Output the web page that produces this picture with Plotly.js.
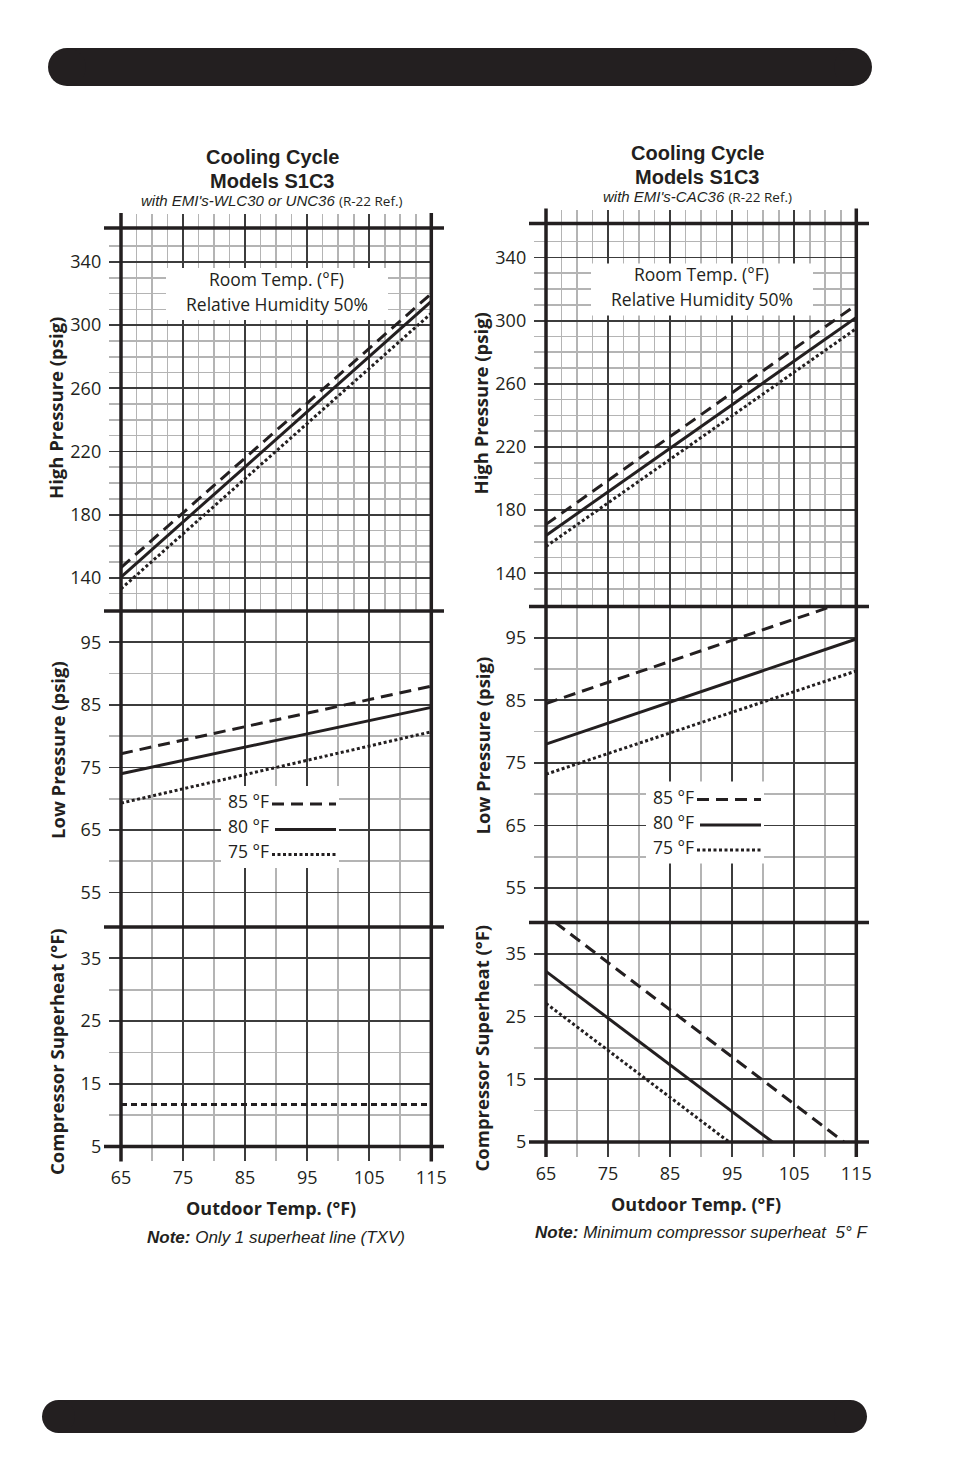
<!DOCTYPE html>
<html><head><meta charset="utf-8">
<script src="https://cdn.plot.ly/plotly-3.0.1.min.js"></script>
<style>html,body{margin:0;padding:0;background:#fff}#chart{width:954px;height:1474px}</style>
</head><body><div id="chart"></div>
<script>
// ---------- DATA ----------
const tempEnds = [65, 115];                 // outdoor temp (°F) end points
// Left chart: EMI's-WLC30 or UNC36
const leftHigh85 = [146.5, 320];
const leftHigh80 = [140.5, 315];
const leftHigh75 = [133, 307.5];
const leftLow85 = [77.2, 88];
const leftLow80 = [74, 84.6];
const leftLow75 = [69.3, 80.7];
const leftShTemp = [65, 115];
const leftSh = [11.7, 11.7];
// Right chart: EMI's-CAC36
const rightHigh85 = [171, 310];
const rightHigh80 = [164, 302];
const rightHigh75 = [157, 295];
const rightLow85Temp = [65, 111];
const rightLow85 = [84.5, 100];
const rightLow80 = [78, 94.8];
const rightLow75 = [73.2, 89.7];
const rightSh85Temp = [66.5, 113];
const rightSh85 = [40, 5];
const rightSh80Temp = [65, 101.5];
const rightSh80 = [32.2, 5];
const rightSh75Temp = [65, 94.5];
const rightSh75 = [27.1, 5];
// Tick values
const xTickVals = [65, 75, 85, 95, 105, 115];
const highTicks = [140, 180, 220, 260, 300, 340];
const lowTicks = [55, 65, 75, 85, 95];
const shTicks = [5, 15, 25, 35];
const legendLabels = ['85 °F', '80 °F', '75 °F'];

// ---------- STYLE / GEOMETRY ----------
const W = 954, H = 1474;
const INK = '#231f20';
const DARK = '#3c3c3c', LIGHT = '#b4b4b4';
const TICKFONT = {family: 'Open Sans, sans-serif', size: 18, color: INK};
const px = x => x / W;
const py = y => 1 - y / H;
const DASH = '12px,7px', DOT = '3px,2.5px';

const layout = {
  width: W, height: H, margin: {l: 0, r: 0, t: 0, b: 0},
  paper_bgcolor: '#fff', plot_bgcolor: 'rgba(0,0,0,0)',
  showlegend: false, shapes: [], annotations: []
};
const traces = [];

function range(a, b, step) { const r = []; for (let v = a; v <= b + 1e-9; v += step) r.push(+v.toFixed(2)); return r; }
const majX = [75, 85, 95, 105];
const minXHigh = range(67.5, 112.5, 2.5).filter(v => !majX.includes(v));
const minXLow = [70, 80, 90, 100, 110];
const minYHigh = range(130, 350, 10).filter(v => !highTicks.includes(v));
const minYLow = [60, 70, 80, 90];
const minYSh = [10, 20, 30];

function line(shapes, x0, y0, x1, y1, w, color, dash) {
  shapes.push({type: 'line', xref: 'paper', yref: 'paper', x0: px(x0), x1: px(x1), y0: py(y0), y1: py(y1),
    line: {color: color || INK, width: w, dash: dash || 'solid'}, layer: 'above'});
}
function rect(shapes, x0, y0, x1, y1, fill) {
  shapes.push({type: 'rect', xref: 'paper', yref: 'paper', x0: px(x0), x1: px(x1), y0: py(y1), y1: py(y0),
    fillcolor: fill, line: {width: 0}, layer: 'above'});
}
function ann(text, x, y, size, opts) {
  layout.annotations.push(Object.assign({text: text, x: px(x), y: py(y), xref: 'paper', yref: 'paper',
    showarrow: false, xanchor: 'center', yanchor: 'middle',
    font: {family: 'Open Sans, sans-serif', size: size, color: INK}}, opts || {}));
}

function buildColumn(idx, dx, dy, d) {
  const x65 = 121 + dx, x115 = 431.3 + dx;
  const s = (x115 - x65) / 50;
  const xr = [63.1, 115.05];
  const xdom = [px(x65 + (xr[0] - 65) * s), px(x65 + (xr[1] - 65) * s)];
  const n = idx * 3;
  // panel geometry (pixels)
  const hiTop = 214 + dy, hiBot = 611 + dy;
  const hiScale = 383 / 242.5;
  const hiRange = [119, 119 + (hiBot - hiTop) / hiScale];
  const loTop = 611 + dy, loBot = 927 + dy;
  const shTop = 927 + dy, shBot = 1161 + dy;
  const shScale = 219.5 / 35;
  const shRange = [5 - (shBot - (1146.5 + dy)) / shScale, 40];

  const grid = {showgrid: true, gridcolor: DARK, gridwidth: 1.8, zeroline: false, showline: false, ticks: ''};
  const axNames = [n + 1, n + 2, n + 3].map(k => k === 1 ? '' : String(k));
  const doms = [[py(hiBot), py(hiTop)], [py(loBot), py(loTop)], [py(shBot), py(shTop)]];
  const yRanges = [hiRange, [49.5, 100], shRange];
  const yTicks = [highTicks, lowTicks, shTicks];
  const yMinor = [minYHigh, minYLow, minYSh];
  const xMinor = [minXHigh, minXLow, minXLow];
  for (let p = 0; p < 3; p++) {
    const k = axNames[p];
    layout['xaxis' + k] = Object.assign({}, grid, {
      domain: xdom, range: xr, anchor: 'y' + k,
      tickmode: 'array', tickvals: p === 2 ? xTickVals : majX,
      showticklabels: p === 2, tickfont: TICKFONT, ticklabelstandoff: 4,
      minor: {tickmode: 'array', tickvals: xMinor[p], showgrid: true, gridcolor: LIGHT, gridwidth: 1.6, ticks: ''}
    });
    layout['yaxis' + k] = Object.assign({}, grid, {
      domain: doms[p], range: yRanges[p], anchor: 'x' + k,
      tickmode: 'array', tickvals: yTicks[p], showticklabels: true, tickfont: TICKFONT, ticklabelstandoff: 7,
      minor: {tickmode: 'array', tickvals: yMinor[p], showgrid: true, gridcolor: LIGHT, gridwidth: 1.6, ticks: ''}
    });
  }
  const xa = axNames.map(k => 'x' + k), ya = axNames.map(k => 'y' + k);
  function tr(p, xs, ys, dash, w) {
    traces.push({type: 'scatter', mode: 'lines', x: xs, y: ys, xaxis: xa[p], yaxis: ya[p],
      line: {color: INK, width: w || 3, dash: dash}, hoverinfo: 'skip'});
  }
  d.forEach(t => tr(t[0], t[1], t[2], t[3], t[4]));

  const sh = layout.shapes;
  // white boxes (Room temp + legend)
  rect(sh, 166 + dx, 268 + dy, 388 + dx, 320 + dy, '#fff');
  rect(sh, 221 + dx, 786 + dy, 339 + dx, 868 + dy, '#fff');
  // thick frame
  [228, 611, 927, 1146.5].forEach(y => line(sh, 104 + dx, y + dy, 444 + dx, y + dy, 3.5));
  [x65, x115].forEach(x => line(sh, x, 213 + dy, x, 1161.5 + dy, 3.5));
  // legend samples
  const lx0 = 272 + dx, lx1 = 336 + dx;
  line(sh, lx0, 804 + dy, lx1, 804 + dy, 3, INK, DASH);
  line(sh, lx0 + 3, 829.5 + dy, lx1, 829.5 + dy, 3.2, INK, 'solid');
  line(sh, lx0, 854.5 + dy, lx1, 854.5 + dy, 3, INK, DOT);
  legendLabels.forEach((t, i) => ann(t, 226 + dx, 801 + 25 * i + dy, 17.5, {xanchor: 'left'}));
  // room temp box text
  ann('Room Temp. (°F)', 276 + dx, 279 + dy, 17.5);
  ann('Relative Humidity 50%', 277 + dx, 304 + dy, 17.5);
  // axis titles
  const bold = {family: 'Open Sans, sans-serif', size: 18.5, color: INK};
  ann('<b>High Pressure (psig)</b>', 55 + dx, 408 + dy, 18.5, {textangle: -90, font: bold});
  ann('<b>Low Pressure (psig)</b>', 57 + dx, 750 + dy, 18.5, {textangle: -90, font: bold});
  ann('<b>Compressor Superheat (°F)</b>', 56 + dx, 1052 + dy, 18.5, {textangle: -90, font: bold});
  ann('<b>Outdoor Temp. (°F)</b>', 271 + dx, 1208 + dy, 18, {font: Object.assign({}, bold, {size: 18})});
}

buildColumn(0, 0, 0, [
  [0, tempEnds, leftHigh85, DASH], [0, tempEnds, leftHigh80, 'solid'], [0, tempEnds, leftHigh75, DOT],
  [1, tempEnds, leftLow85, DASH], [1, tempEnds, leftLow80, 'solid'], [1, tempEnds, leftLow75, DOT],
  [2, leftShTemp, leftSh, '6px,4px', 3]
]);
buildColumn(1, 425, -4.5, [
  [0, tempEnds, rightHigh85, DASH], [0, tempEnds, rightHigh80, 'solid'], [0, tempEnds, rightHigh75, DOT],
  [1, rightLow85Temp, rightLow85, DASH], [1, tempEnds, rightLow80, 'solid'], [1, tempEnds, rightLow75, DOT],
  [2, rightSh85Temp, rightSh85, DASH], [2, rightSh80Temp, rightSh80, 'solid'], [2, rightSh75Temp, rightSh75, DOT]
]);

// Titles
const TF = {family: 'Liberation Sans, Arial, sans-serif', size: 20, color: INK};
const SF = {family: 'Liberation Sans, Arial, sans-serif', size: 15, color: INK};
const REF = '<span style="font-family:Open Sans;font-style:normal;font-size:13.5px">(R-22 Ref.)</span>';
ann('<b>Cooling Cycle</b>', 272, 157, 20, {font: TF});
ann('<b>Models S1C3</b>', 272, 181, 20, {font: TF});
ann("<i>with EMI's-WLC30 or UNC36 </i>" + REF, 272, 201, 15, {font: SF});
ann('<b>Cooling Cycle</b>', 697, 153, 20, {font: TF});
ann('<b>Models S1C3</b>', 697, 177, 20, {font: TF});
ann("<i>with EMI's-CAC36 </i>" + REF, 697, 197, 15, {font: SF});
// Notes
const NF = {family: 'Liberation Sans, Arial, sans-serif', size: 17, color: INK};
ann('<b><i>Note:</i></b><i> Only 1 superheat line (TXV)</i>', 276, 1237, 17, {font: NF});
ann('<b><i>Note:</i></b><i> Minimum compressor superheat  5° F</i>', 701, 1232, 17, {font: NF});

// Decorative pills
function pill(x0, y0, x1, y1) {
  const r = (y1 - y0) / 2;
  layout.shapes.push({type: 'rect', xref: 'paper', yref: 'paper', x0: px(x0 + r), x1: px(x1 - r), y0: py(y1), y1: py(y0), fillcolor: INK, line: {width: 0}});
  [[x0, x0 + 2 * r], [x1 - 2 * r, x1]].forEach(c => layout.shapes.push({type: 'circle', xref: 'paper', yref: 'paper',
    x0: px(c[0]), x1: px(c[1]), y0: py(y1), y1: py(y0), fillcolor: INK, line: {width: 0}}));
}
pill(48, 48, 872, 86);
pill(42, 1400, 867, 1433);

Plotly.newPlot('chart', traces, layout, {staticPlot: true, displayModeBar: false});
</script></body></html>
